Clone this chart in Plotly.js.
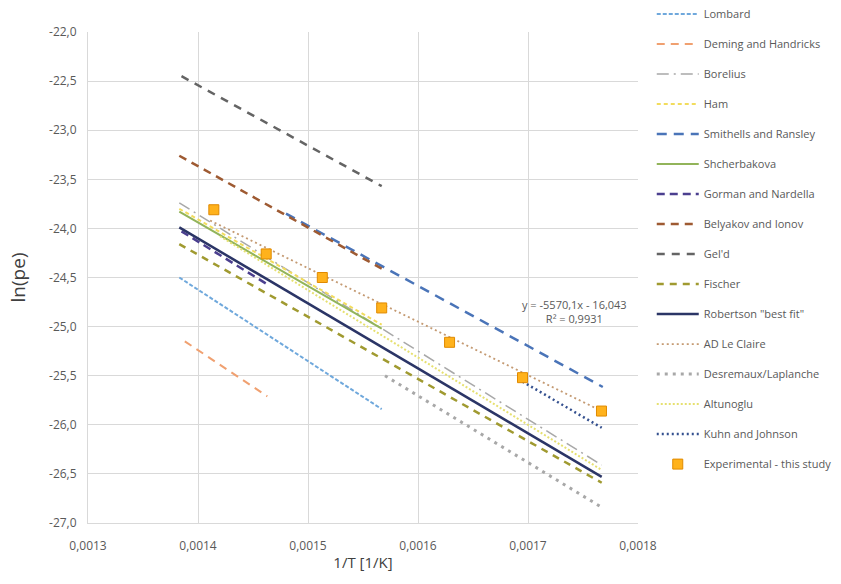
<!DOCTYPE html>
<html>
<head>
<meta charset="utf-8">
<script src="https://cdn.plot.ly/plotly-3.0.1.min.js"></script>
<style>html,body{margin:0;padding:0;background:#fff;}#chart{width:841px;height:584px;}</style>
</head>
<body>
<div id="chart"></div>
<script>
// ---- data ----
const lombardX = [0.001383, 0.001567];   const lombardY = [-24.50, -25.84];
const demingX = [0.001388, 0.001463];    const demingY = [-25.15, -25.71];
const boreliusX = [0.001383, 0.001767];  const boreliusY = [-23.74, -26.41];
const hamX = [0.001383, 0.001567];       const hamY = [-23.80, -24.98];
const smithellsX = [0.001480, 0.001768]; const smithellsY = [-23.85, -25.615];
const shcherbX = [0.001383, 0.001567];   const shcherbY = [-23.83, -25.02];
const gormanX = [0.001385, 0.001463];    const gormanY = [-24.03, -24.57];
const belyakovX = [0.001383, 0.001567];  const belyakovY = [-23.26, -24.41];
const geldX = [0.001385, 0.001567];      const geldY = [-22.45, -23.57];
const fischerX = [0.001383, 0.001767];   const fischerY = [-24.16, -26.59];
const robertsonX = [0.001383, 0.001767]; const robertsonY = [-23.99, -26.53];
const leClaireX = [0.001411, 0.001767];  const leClaireY = [-23.92, -25.86];
const desremauxX = [0.001570, 0.001767]; const desremauxY = [-25.50, -26.84];
const altunogluX = [0.001420, 0.001767]; const altunogluY = [-24.08, -26.46];
const kuhnX = [0.001695, 0.001767];      const kuhnY = [-25.56, -26.03];
const expX = [0.0014144, 0.001462, 0.001513, 0.001567, 0.0016287, 0.001695, 0.0017668];
const expY = [-23.81, -24.26, -24.50, -24.81, -25.16, -25.52, -25.86];
const fitText = ['y = -5570,1x - 16,043', 'R² = 0,9931'];
const yTickVals = [-22, -22.5, -23, -23.5, -24, -24.5, -25, -25.5, -26, -26.5, -27];
const yTickText = ['-22,0', '-22,5', '-23,0', '-23,5', '-24,0', '-24,5', '-25,0', '-25,5', '-26,0', '-26,5', '-27,0'];

function line(name, x, y, color, width, dash) {
  return {type: 'scatter', mode: 'lines', name: name, x: x, y: y, legendgroup: name,
          line: {color: color, width: width, dash: dash}};
}

const traces = [
  line('Lombard', lombardX, lombardY, '#6FA8DC', 2, '4px,2px'),
  line('Deming and Handricks', demingX, demingY, '#F0A070', 2, '8px,6px'),
  line('Borelius', boreliusX, boreliusY, '#A8A8A8', 1.5, '12px,5px,2px,5px'),
  line('Ham', hamX, hamY, '#F2DC5D', 2, '4px,3px'),
  line('Smithells and Ransley', smithellsX, smithellsY, '#4A74B8', 2.5, '10px,7px'),
  line('Shcherbakova', shcherbX, shcherbY, '#92B45A', 2, 'solid'),
  line('Gorman and Nardella', gormanX, gormanY, '#4B3F8F', 2.5, '8px,5px'),
  line('Belyakov and Ionov', belyakovX, belyakovY, '#9E5A32', 2.5, '8px,6px'),
  line("Gel'd", geldX, geldY, '#646464', 2.5, '8px,7px'),
  line('Fischer', fischerX, fischerY, '#A09A30', 2.5, '7px,6px'),
  line('Robertson "best fit"', robertsonX, robertsonY, '#2B3566', 2.5, 'solid'),
  line('AD Le Claire', leClaireX, leClaireY, '#C49A72', 1.8, '2px,3px'),
  line('Desremaux/Laplanche', desremauxX, desremauxY, '#A8A8A8', 3, '3px,5px'),
  line('Altunoglu', altunogluX, altunogluY, '#E6E070', 2, '2px,2px'),
  line('Kuhn and Johnson', kuhnX, kuhnY, '#34508F', 2.5, '2px,3px'),
  {type: 'scatter', mode: 'markers', name: 'Experimental - this study', x: expX, y: expY,
   legendgroup: 'exp',
   marker: {symbol: 'square', size: 10, color: '#FFB21C', line: {color: '#E08A00', width: 1}}}
];

const fam = 'Open Sans, Noto Sans, sans-serif';
const tickFont = {family: fam, size: 12, color: '#595959'};

const layout = {
  width: 841, height: 584,
  margin: {l: 88, r: 203, t: 32, b: 61, pad: 0, autoexpand: false},
  paper_bgcolor: '#ffffff', plot_bgcolor: '#ffffff',
  separators: ', ',
  showlegend: true,
  legend: {
    xref: 'paper', x: 1.025, xanchor: 'left',
    yref: 'paper', y: 1.066, yanchor: 'top',
    maxheight: 580,
    itemwidth: 42,
    traceorder: 'grouped', tracegroupgap: 11,
    font: {family: fam, size: 11, color: '#595959'},
    bgcolor: 'rgba(0,0,0,0)'
  },
  xaxis: {
    range: [0.0013, 0.0018], dtick: 0.0001, tick0: 0.0013, tickformat: '.4f',
    showgrid: true, gridcolor: '#D9D9D9', gridwidth: 1,
    showline: true, linecolor: '#D9D9D9', linewidth: 1,
    zeroline: false, ticks: '', tickfont: tickFont, ticklabelstandoff: 12,
    title: {text: '1/T [1/K]', font: {family: fam, size: 15, color: '#404040'}, standoff: 4}
  },
  yaxis: {
    range: [-27, -22], tickmode: 'array', tickvals: yTickVals, ticktext: yTickText,
    showgrid: true, gridcolor: '#D9D9D9', gridwidth: 1,
    showline: true, linecolor: '#D9D9D9', linewidth: 1,
    zeroline: false, ticks: '', tickfont: tickFont, ticklabelstandoff: 8,
    title: {text: 'ln(pe)', font: {family: fam, size: 19, color: '#404040'}, standoff: 18}
  },
  annotations: [{
    xref: 'paper', yref: 'paper', x: 0.885, y: 0.43, xanchor: 'center', yanchor: 'middle',
    text: fitText.join('<br>'), showarrow: false, align: 'center',
    font: {family: fam, size: 11, color: '#595959'}
  }]
};

Plotly.newPlot('chart', traces, layout, {displayModeBar: false, staticPlot: true});
</script>
</body>
</html>
